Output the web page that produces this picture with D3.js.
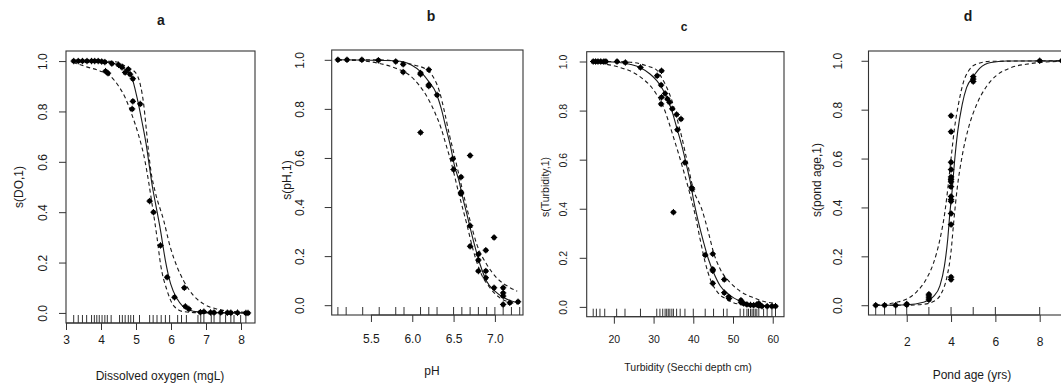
<!DOCTYPE html>
<html><head><meta charset="utf-8">
<script src="https://cdn.jsdelivr.net/npm/d3@7"></script>
<style>
body{margin:0;background:#fff;}
svg{display:block;font-family:"Liberation Sans",Arial,sans-serif;}
</style></head>
<body><svg id="chart" width="1061" height="389"></svg>
<script>
// ---------- Panel a : Dissolved oxygen ----------
const doPoints = [[3.22,1.0],[3.35,1.0],[3.47,1.0],[3.6,1.0],[3.73,1.0],[3.82,1.0],[3.92,1.0],[4.02,0.998],[4.11,0.996],[4.31,0.99],[4.5,0.985],[4.6,0.975],[4.69,0.955],[4.78,0.968],[4.83,0.948],[4.91,0.93],[4.13,0.96],[4.2,0.952],[4.91,0.84],[4.89,0.81],[5.12,0.83],[5.39,0.444],[5.5,0.4],[5.7,0.268],[5.89,0.142],[6.1,0.062],[6.38,0.10],[6.41,0.026],[6.51,0.016],[6.84,0.003],[6.94,0.005],[7.13,0.002],[7.23,0.002],[7.42,0.002],[7.61,0.001],[7.71,0.001],[7.9,0.001],[8.14,0.0],[8.2,0.0]];
const doFit = [[3.2,1.0],[4.0,0.998],[4.5,0.985],[4.7,0.965],[4.88,0.935],[5.03,0.855],[5.17,0.76],[5.29,0.67],[5.39,0.575],[5.47,0.5],[5.55,0.44],[5.7,0.328],[5.84,0.208],[5.99,0.115],[6.18,0.055],[6.46,0.015],[6.84,0.003],[7.5,0.0],[8.2,0.0]];
const doUpper = [[3.2,1.0],[4.26,0.999],[4.5,0.995],[4.74,0.975],[4.98,0.955],[5.12,0.908],[5.22,0.828],[5.29,0.735],[5.36,0.638],[5.43,0.56],[5.55,0.48],[5.79,0.368],[5.98,0.261],[6.18,0.181],[6.36,0.128],[6.65,0.068],[6.94,0.035],[7.32,0.015],[7.8,0.005],[8.2,0.002]];
const doLower = [[3.2,0.995],[3.59,0.977],[3.97,0.961],[4.26,0.941],[4.5,0.901],[4.69,0.855],[4.88,0.788],[5.07,0.708],[5.26,0.601],[5.36,0.521],[5.45,0.44],[5.6,0.30],[5.7,0.195],[5.89,0.088],[6.08,0.028],[6.36,0.005],[7.0,0.0],[8.2,0.0]];
const doRug = [3.22,3.35,3.47,3.59,3.73,3.81,3.88,3.95,4.03,4.11,4.18,4.29,4.53,4.61,4.69,4.78,4.85,4.93,5.1,5.39,5.49,5.6,5.72,5.84,5.96,6.19,6.3,6.44,6.77,6.85,6.94,7.15,7.23,7.4,7.56,7.71,7.8,7.99,8.14];
const doXTicks = [3,4,5,6,7,8];

// ---------- Panel b : pH ----------
const phPoints = [[5.1,1.0],[5.21,1.0],[5.39,1.0],[5.59,0.998],[5.8,0.993],[5.89,0.982],[5.89,0.95],[6.1,0.941],[6.1,0.946],[6.2,0.96],[6.2,0.898],[6.2,0.893],[6.3,0.857],[6.1,0.704],[6.49,0.597],[6.7,0.61],[6.5,0.553],[6.59,0.522],[6.59,0.454],[6.59,0.46],[6.7,0.324],[6.7,0.24],[6.8,0.208],[6.8,0.184],[6.8,0.139],[6.89,0.224],[6.89,0.139],[6.89,0.112],[6.99,0.276],[6.99,0.071],[7.1,0.071],[7.1,0.05],[7.1,0.037],[7.1,0.003],[7.18,0.01],[7.28,0.014]];
const phFit = [[5.1,1.0],[5.8,0.996],[6.0,0.977],[6.1,0.952],[6.2,0.911],[6.29,0.864],[6.35,0.802],[6.41,0.72],[6.46,0.652],[6.51,0.57],[6.57,0.501],[6.6,0.454],[6.66,0.372],[6.74,0.262],[6.82,0.167],[6.9,0.098],[7.0,0.057],[7.11,0.03],[7.23,0.014],[7.28,0.01]];
const phUpper = [[5.1,1.0],[5.59,1.0],[5.88,0.99],[6.04,0.977],[6.16,0.963],[6.25,0.932],[6.33,0.87],[6.39,0.788],[6.45,0.693],[6.5,0.624],[6.6,0.48],[6.7,0.344],[6.78,0.249],[6.9,0.167],[7.02,0.112],[7.15,0.078],[7.27,0.057]];
const phLower = [[5.1,0.999],[5.39,0.996],[5.59,0.986],[5.8,0.966],[5.96,0.939],[6.08,0.898],[6.19,0.843],[6.27,0.788],[6.35,0.72],[6.41,0.652],[6.47,0.583],[6.56,0.46],[6.66,0.33],[6.74,0.221],[6.82,0.139],[6.94,0.071],[7.06,0.03],[7.16,0.014],[7.27,0.005]];
const phRug = [5.1,5.2,5.4,5.6,5.8,5.9,6.1,6.2,6.3,6.5,6.6,6.7,6.8,6.9,7.0,7.1,7.2,7.3];
const phXTicks = [5.5,6.0,6.5,7.0];

// ---------- Panel c : Turbidity ----------
const tuPoints = [[14.8,1.0],[15.4,1.0],[16.0,1.0],[16.7,1.0],[17.5,1.0],[18.0,1.0],[20.8,1.0],[22.9,0.996],[26.7,0.976],[30.9,0.942],[32.0,0.962],[31.9,0.904],[32.0,0.854],[31.9,0.827],[32.9,0.87],[33.5,0.847],[34.0,0.834],[34.7,0.807],[35.8,0.784],[36.9,0.766],[36.0,0.722],[37.9,0.588],[39.6,0.486],[39.7,0.48],[35.0,0.386],[43.0,0.211],[44.9,0.216],[44.9,0.153],[44.9,0.147],[44.9,0.096],[47.8,0.112],[47.8,0.058],[48.9,0.041],[49.0,0.034],[52.0,0.027],[52.0,0.019],[52.7,0.014],[53.5,0.01],[54.4,0.008],[55.2,0.007],[56.0,0.01],[56.5,0.014],[56.5,0.005],[57.3,0.003],[58.6,0.003],[59.8,0.003],[60.7,0.003]];
const tuFit = [[14.8,1.0],[20.7,0.997],[24.0,0.989],[26.6,0.976],[29.1,0.949],[30.8,0.922],[32.0,0.895],[33.3,0.854],[34.6,0.8],[35.8,0.732],[37.1,0.658],[38.4,0.57],[39.3,0.505],[40.0,0.441],[41.3,0.345],[42.6,0.263],[43.8,0.195],[45.1,0.14],[46.8,0.085],[48.9,0.051],[51.8,0.023],[55.2,0.01],[60.7,0.003]];
const tuUpper = [[14.8,1.0],[20.7,1.0],[24.9,0.996],[28.3,0.982],[30.8,0.965],[32.0,0.935],[33.3,0.895],[34.6,0.841],[35.8,0.773],[37.1,0.692],[38.4,0.597],[40.0,0.48],[42.1,0.4],[43.8,0.304],[45.1,0.222],[46.8,0.153],[49.3,0.099],[51.8,0.064],[55.2,0.037],[58.6,0.019],[60.7,0.014]];
const tuLower = [[14.8,0.996],[18.1,0.989],[21.5,0.976],[24.9,0.955],[27.4,0.928],[29.5,0.895],[31.2,0.854],[32.5,0.814],[33.7,0.759],[35.0,0.692],[36.3,0.624],[37.5,0.557],[39.0,0.47],[40.5,0.373],[41.7,0.277],[43.0,0.181],[44.3,0.112],[45.9,0.064],[48.5,0.03],[51.8,0.01],[56.9,0.003],[60.7,0.001]];
const tuRug = [14.8,15.6,16.5,17.7,20.7,22.8,26.7,30.8,31.6,32.3,32.9,33.3,33.7,34.1,34.6,35.0,35.8,36.7,37.9,40.0,43.0,45.1,47.6,48.5,51.8,52.7,53.5,53.9,54.4,54.8,55.2,55.6,56.0,56.5,57.7,58.6,59.8,60.7];
const tuXTicks = [20,30,40,50,60];

// ---------- Panel d : Pond age ----------
const agePoints = [[0.6,0],[1.0,0],[1.5,0],[2.0,0.002],[2.0,0.005],[3.0,0.022],[3.0,0.03],[3.0,0.038],[3.0,0.045],[4.0,0.105],[4.0,0.115],[4.0,0.33],[4.0,0.375],[4.0,0.425],[4.0,0.432],[4.0,0.445],[4.0,0.485],[4.0,0.505],[4.0,0.515],[4.0,0.525],[4.0,0.555],[4.0,0.585],[4.0,0.71],[4.0,0.775],[5.0,0.915],[5.0,0.925],[5.0,0.935],[8.0,1.0],[9.0,1.0]];
const ageFit = [[0.6,0],[2.0,0.002],[2.75,0.012],[3.2,0.035],[3.5,0.08],[3.7,0.16],[3.85,0.27],[3.95,0.38],[4.05,0.47],[4.15,0.58],[4.3,0.71],[4.5,0.82],[4.7,0.89],[5.0,0.935],[5.3,0.97],[5.8,0.993],[6.5,0.999],[10,1.0]];
const ageUpper = [[0.6,0.001],[1.55,0.012],[2.0,0.025],[2.45,0.055],[2.9,0.11],[3.2,0.17],[3.5,0.27],[3.72,0.38],[3.87,0.49],[4.0,0.6],[4.15,0.72],[4.35,0.83],[4.55,0.91],[4.8,0.96],[5.1,0.985],[5.8,0.998],[10,1.0]];
const ageLower = [[0.6,0.0],[2.0,0.0],[2.75,0.004],[3.2,0.015],[3.57,0.05],[3.8,0.11],[4.0,0.22],[4.12,0.34],[4.28,0.48],[4.5,0.61],[4.8,0.73],[5.15,0.82],[5.6,0.895],[6.05,0.94],[6.65,0.97],[7.55,0.988],[8.45,0.996],[10,1.0]];
const ageRug = [0.6,1.0,1.5,2.0,3.0,4.0,5.0,6.0,8.0];
const ageXTicks = [2,4,6,8];

const yTicks = [0.0,0.2,0.4,0.6,0.8,1.0];

// ---------- layout (pixels) ----------
const panels = [
  {title:"a", tx:161, ty:21, box:[66,51,255,323], xd:[3.0,8.4], pts:doPoints, fit:doFit, up:doUpper, lo:doLower, rug:doRug, xt:doXTicks, xf:d3.format("d"),
   ylab:"s(DO,1)", ylx:20, yly:187, ytx:43, xlab:"Dissolved oxygen (mgL)", xlx:160, xly:377, xtly:341, fs:12},
  {title:"b", tx:431, ty:17, box:[331.7,50,523,315], xd:[5.025,7.34], pts:phPoints, fit:phFit, up:phUpper, lo:phLower, rug:phRug, xt:phXTicks, xf:d3.format(".1f"),
   ylab:"s(pH,1)", ylx:288, yly:180, ytx:300, xlab:"pH", xlx:432, xly:372, xtly:340, fs:12},
  {title:"c", tx:684, ty:28, box:[586.7,51.7,784,316.7], xd:[13.16,62.84], pts:tuPoints, fit:tuFit, up:tuUpper, lo:tuLower, rug:tuRug, xt:tuXTicks, xf:d3.format("d"),
   ylab:"s(Turbidity,1)", ylx:546, yly:187, ytx:563, xlab:"Turbidity (Secchi depth cm)", xlx:688, xly:368, xtly:340, fs:10.5},
  {title:"d", tx:968, ty:17, box:[868.5,51,1090,315], xd:[0.275,10.27], pts:agePoints, fit:ageFit, up:ageUpper, lo:ageLower, rug:ageRug, xt:ageXTicks, xf:d3.format("d"),
   ylab:"s(pond age,1)", ylx:818, yly:180, ytx:838, xlab:"Pond age (yrs)", xlx:972, xly:376, xtly:343, fs:12}
];

const svg = d3.select("#chart");
const ink = "#1a1a1a";

panels.forEach(p => {
  const [L,T,R,B] = p.box;
  const x = d3.scaleLinear().domain(p.xd).range([L,R]);
  const y = d3.scaleLinear().domain([-0.04,1.04]).range([B,T]);
  const g = svg.append("g");

  g.append("text").attr("x",p.tx).attr("y",p.ty).attr("text-anchor","middle").attr("dominant-baseline","middle")
    .attr("font-weight","bold").attr("font-size",p.fs===12?14:12).attr("fill",ink).text(p.title);

  g.append("rect").attr("x",L).attr("y",T).attr("width",R-L).attr("height",B-T)
    .attr("fill","none").attr("stroke","#333").attr("stroke-width",1.1);

  const xa = g.append("g").attr("transform",`translate(0,${B})`)
    .call(d3.axisBottom(x).tickValues(p.xt).tickSize(7).tickPadding(3).tickFormat(p.xf));
  xa.select(".domain").remove();
  xa.selectAll("line").attr("stroke","#333");
  xa.selectAll("text").attr("font-size",p.fs).attr("font-family","Liberation Sans, Arial, sans-serif")
    .attr("fill",ink).attr("y",p.xtly-B).attr("dy",0).attr("dominant-baseline","middle");
  g.append("line").attr("x1",x(p.xt[0])).attr("x2",x(p.xt[p.xt.length-1])).attr("y1",B).attr("y2",B).attr("stroke","#333");

  const ya = g.append("g").attr("transform",`translate(${L},0)`)
    .call(d3.axisLeft(y).tickValues(yTicks).tickSize(7).tickFormat(d3.format(".1f")));
  ya.select(".domain").remove();
  ya.selectAll("line").attr("stroke","#333");
  ya.selectAll("text").attr("font-size",p.fs).attr("font-family","Liberation Sans, Arial, sans-serif")
    .attr("fill",ink).attr("transform","rotate(-90)").attr("x",0).attr("y",-(L-p.ytx)).attr("dy","0.35em")
    .attr("text-anchor","middle").attr("dominant-baseline","auto");

  g.append("text").attr("x",p.xlx).attr("y",p.xly).attr("text-anchor","middle").attr("dominant-baseline","middle")
    .attr("font-size",p.fs).attr("fill",ink).text(p.xlab);
  g.append("text").attr("transform",`translate(${p.ylx},${p.yly}) rotate(-90)`).attr("text-anchor","middle")
    .attr("dominant-baseline","middle").attr("font-size",p.fs).attr("fill",ink).text(p.ylab);

  g.append("g").selectAll("line").data(p.rug).join("line")
    .attr("x1",d=>x(d)).attr("x2",d=>x(d)).attr("y1",B).attr("y2",B-8).attr("stroke","#333").attr("stroke-width",1);

  const line = d3.line().x(d=>x(d[0])).y(d=>y(d[1])).curve(d3.curveMonotoneX);
  g.append("path").datum(p.fit).attr("d",line).attr("fill","none").attr("stroke",ink).attr("stroke-width",1.1);
  [p.up,p.lo].forEach(c => g.append("path").datum(c).attr("d",line).attr("fill","none")
    .attr("stroke",ink).attr("stroke-width",1.1).attr("stroke-dasharray","4,3"));

  const pg = g.append("g");
  pg.selectAll("circle").data(p.pts).join("circle").attr("cx",d=>x(d[0])).attr("cy",d=>y(d[1])).attr("r",2.5).attr("fill","#000");
  pg.selectAll("path").data(p.pts).join("path")
    .attr("d",d=>`M${x(d[0])-3.2},${y(d[1])}h6.4M${x(d[0])},${y(d[1])-3.2}v6.4`).attr("stroke","#000").attr("stroke-width",1);
});
</script>
</body></html>
